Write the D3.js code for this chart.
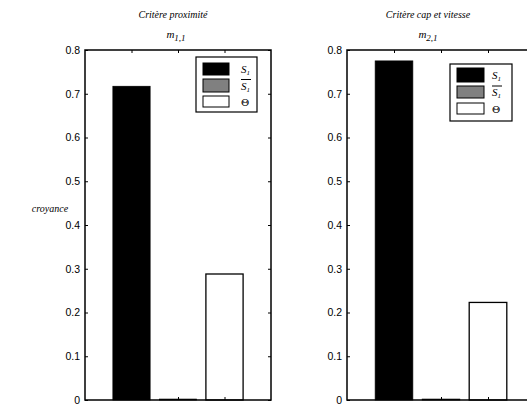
<!DOCTYPE html>
<html>
<head>
<meta charset="utf-8">
<script src="https://cdn.jsdelivr.net/npm/d3@7"></script>
<style>
  body { margin: 0; background: #fff; }
  svg { display: block; }
  .serif { font-family: "Liberation Serif", "DejaVu Serif", serif; }
  .sans { font-family: "Liberation Sans", Arial, sans-serif; }
  .greek { font-family: "DejaVu Serif", serif; }
</style>
</head>
<body>
<div id="chart"></div>
<script>
// data
const categories = ['S1', 'notS1', 'Theta'];
const fills = ['#000000', '#808080', '#ffffff'];
const proximiteValues = [0.717, 0.002, 0.288];
const capValues = [0.775, 0.002, 0.223];
const yTicks = [0, 0.1, 0.2, 0.3, 0.4, 0.5, 0.6, 0.7, 0.8];
const titles = ['Critère proximité', 'Critère cap et vitesse'];

const W = 527, H = 408;
const svg = d3.select('#chart').append('svg')
  .attr('width', W)
  .attr('height', H);

const panels = [
  { left: 85, width: 186, values: proximiteValues, title: titles[0], sub: '1,1', titleX: 173, subX: 176,
    legend: { x: 196, y: 57, w: 61, h: 55, sw: 26, rows: [63, 79, 96], rh: [12, 13, 11], tx: 241 } },
  { left: 347, width: 188, values: capValues, title: titles[1], sub: '2,1', titleX: 428, subX: 428,
    legend: { x: 450, y: 64, w: 62, h: 57, sw: 27, rows: [68, 86, 103], rh: [14, 12, 11], tx: 492 } }
];

const yTop = 50, yBottom = 400;
const y = d3.scaleLinear().domain([0, 0.8]).range([yBottom, yTop]);

panels.forEach(p => {
  const x = d3.scaleLinear().domain([0, 4]).range([p.left, p.left + p.width]);
  const g = svg.append('g');

  // bars
  g.selectAll('rect.bar')
    .data(p.values)
    .join('rect')
    .attr('class', 'bar')
    .attr('x', (d, i) => x(i + 1 - 0.4))
    .attr('width', x(0.8) - x(0))
    .attr('y', d => y(d))
    .attr('height', d => y(0) - y(d))
    .attr('fill', (d, i) => fills[i])
    .attr('stroke', '#000')
    .attr('stroke-width', (d, i) => i === 2 ? 1.3 : 0.8);

  // y axis left
  const yAxis = d3.axisLeft(y).tickValues(yTicks).tickSize(-3).tickPadding(5)
    .tickFormat(d => d === 0 ? '0' : d3.format('.1f')(d));
  const ya = g.append('g').attr('transform', `translate(${p.left},0)`).call(yAxis);
  ya.attr('font-family', null).attr('font-size', null);
  ya.select('.domain').remove();
  ya.selectAll('line').attr('stroke', '#000').attr('stroke-width', 1);
  ya.selectAll('text').attr('class', 'sans').style('font-size', '10.5px').attr('fill', '#000');

  // y ticks right
  const yr = g.append('g').attr('transform', `translate(${p.left + p.width},0)`)
    .call(d3.axisRight(y).tickValues(yTicks).tickSize(-3).tickFormat(''));
  yr.select('.domain').remove();
  yr.selectAll('line').attr('stroke', '#000');

  // x ticks top and bottom (no labels)
  const xt = g.append('g').attr('transform', `translate(0,${yTop})`)
    .call(d3.axisTop(x).tickValues([1, 2, 3]).tickSize(-3).tickFormat(''));
  xt.select('.domain').remove();
  xt.selectAll('line').attr('stroke', '#000');
  const xb = g.append('g').attr('transform', `translate(0,${yBottom})`)
    .call(d3.axisBottom(x).tickValues([1, 2, 3]).tickSize(-3).tickFormat(''));
  xb.select('.domain').remove();
  xb.selectAll('line').attr('stroke', '#000');

  // frame
  g.append('rect')
    .attr('x', p.left).attr('y', yTop)
    .attr('width', p.width).attr('height', yBottom - yTop)
    .attr('fill', 'none').attr('stroke', '#000').attr('stroke-width', 1.5);

  // titles
  g.append('text')
    .attr('class', 'serif')
    .attr('x', p.titleX).attr('y', 18)
    .attr('text-anchor', 'middle')
    .style('font-style', 'italic').style('font-size', '10px')
    .text(p.title);
  const st = g.append('text')
    .attr('class', 'serif')
    .attr('x', p.subX).attr('y', 38)
    .attr('text-anchor', 'middle')
    .style('font-style', 'italic').style('font-size', '11px');
  st.append('tspan').text('m');
  st.append('tspan').attr('dy', 3).style('font-size', '9px').text(p.sub);

  // legend
  const L = p.legend;
  const lg = g.append('g');
  lg.append('rect')
    .attr('x', L.x).attr('y', L.y).attr('width', L.w).attr('height', L.h)
    .attr('fill', '#fff').attr('stroke', '#000').attr('stroke-width', 1.2);
  categories.forEach((c, i) => {
    lg.append('rect')
      .attr('x', L.x + 7).attr('y', L.rows[i])
      .attr('width', L.sw).attr('height', L.rh[i])
      .attr('fill', fills[i]).attr('stroke', '#000').attr('stroke-width', 1);
    const ty = L.rows[i] + L.rh[i] / 2 + 4;
    const t = lg.append('text')
      .attr('class', c === 'Theta' ? 'greek' : 'serif')
      .attr('x', L.tx).attr('y', ty)
      .attr('fill', '#000')
      .style('font-size', c === 'Theta' ? '10px' : '11px');
    if (c === 'Theta') {
      t.text('\u0398');
    } else {
      t.append('tspan').style('font-style', 'italic').text('S');
      t.append('tspan').style('font-style', 'italic').style('font-size', '7px').attr('dy', 2).text('1');
      if (c === 'notS1') {
        lg.append('line')
          .attr('x1', L.tx).attr('x2', L.tx + 10)
          .attr('y1', ty - 10).attr('y2', ty - 10)
          .attr('stroke', '#000').attr('stroke-width', 1);
      }
    }
  });
});

// y label
svg.append('text')
  .attr('class', 'serif')
  .attr('x', 50).attr('y', 212)
  .attr('text-anchor', 'middle')
  .style('font-style', 'italic').style('font-size', '10px')
  .text('croyance');
</script>
</body>
</html>
